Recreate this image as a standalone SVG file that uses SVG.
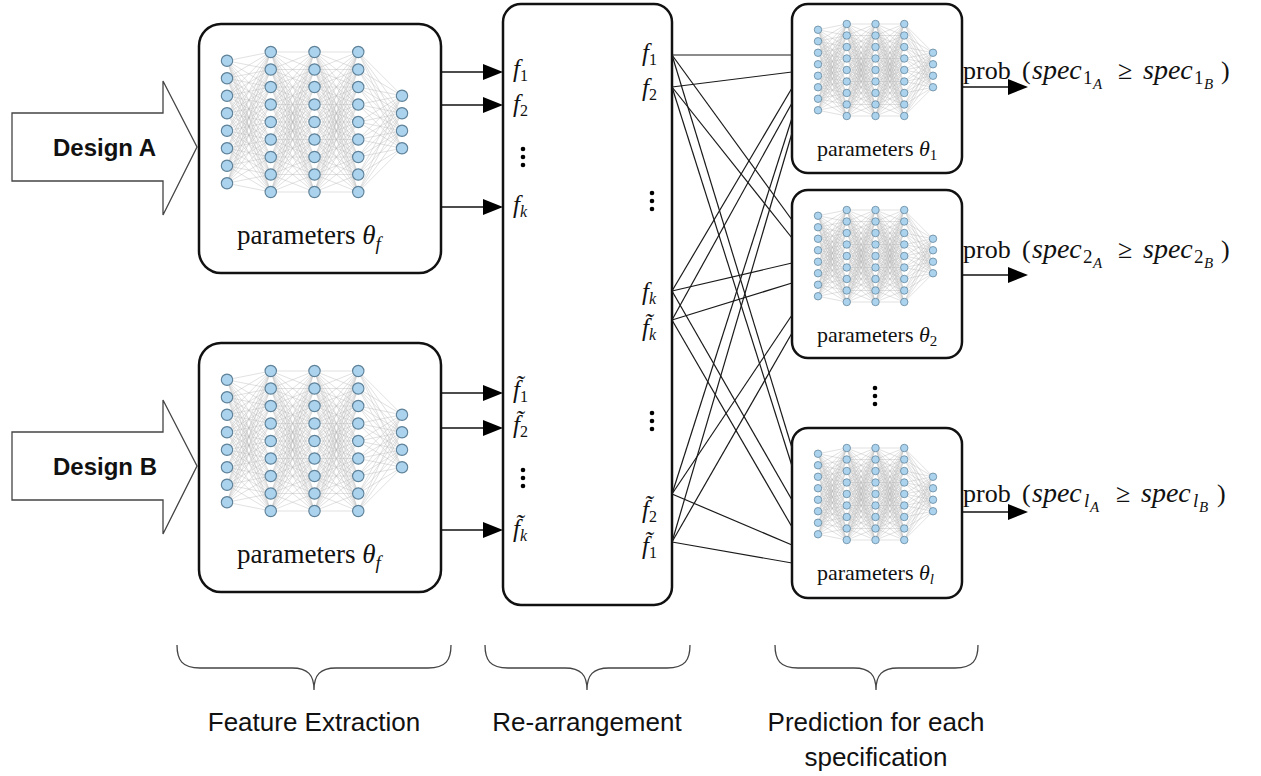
<svg xmlns="http://www.w3.org/2000/svg" xmlns:xlink="http://www.w3.org/1999/xlink" width="1261" height="776" viewBox="0 0 1261 776">
<style>
.box{fill:#fff;stroke:#111;stroke-width:2.5}
.mesh{fill:none;stroke:#a3a3a3;stroke-width:0.4;opacity:.8}
.nd{fill:#acd3ee;stroke:#5f8299;stroke-width:0.13}
.ser{font-family:"Liberation Serif","Times New Roman",serif;fill:#111}
.it{font-style:italic}
.lab{font-size:25px}
.sb{font-size:16px;font-style:normal}
.sbi{font-size:16px;font-style:italic}
.con{stroke:#1a1a1a;stroke-width:1.2;fill:none}
.arr{stroke:#111;stroke-width:1.6;fill:none}
.head{fill:#000}
.dot{fill:#000}
.sans{font-family:"Liberation Sans",Arial,sans-serif;fill:#111}
.brace{fill:none;stroke:#444;stroke-width:1.3}
.design{fill:#fff;stroke:#444;stroke-width:1.3}
</style>
<defs>
<path id="m1" class="mesh" vector-effect="non-scaling-stroke" d="M0 -7L5 -8M0 -7L5 -6M0 -7L5 -4M0 -7L5 -2M0 -7L5 0M0 -7L5 2M0 -7L5 4M0 -7L5 6M0 -7L5 8M0 -5L5 -8M0 -5L5 -6M0 -5L5 -4M0 -5L5 -2M0 -5L5 0M0 -5L5 2M0 -5L5 4M0 -5L5 6M0 -5L5 8M0 -3L5 -8M0 -3L5 -6M0 -3L5 -4M0 -3L5 -2M0 -3L5 0M0 -3L5 2M0 -3L5 4M0 -3L5 6M0 -3L5 8M0 -1L5 -8M0 -1L5 -6M0 -1L5 -4M0 -1L5 -2M0 -1L5 0M0 -1L5 2M0 -1L5 4M0 -1L5 6M0 -1L5 8M0 1L5 -8M0 1L5 -6M0 1L5 -4M0 1L5 -2M0 1L5 0M0 1L5 2M0 1L5 4M0 1L5 6M0 1L5 8M0 3L5 -8M0 3L5 -6M0 3L5 -4M0 3L5 -2M0 3L5 0M0 3L5 2M0 3L5 4M0 3L5 6M0 3L5 8M0 5L5 -8M0 5L5 -6M0 5L5 -4M0 5L5 -2M0 5L5 0M0 5L5 2M0 5L5 4M0 5L5 6M0 5L5 8M0 7L5 -8M0 7L5 -6M0 7L5 -4M0 7L5 -2M0 7L5 0M0 7L5 2M0 7L5 4M0 7L5 6M0 7L5 8"/>
<path id="m2" class="mesh" vector-effect="non-scaling-stroke" d="M0 -8L5 -8M0 -8L5 -6M0 -8L5 -4M0 -8L5 -2M0 -8L5 0M0 -8L5 2M0 -8L5 4M0 -8L5 6M0 -8L5 8M0 -6L5 -8M0 -6L5 -6M0 -6L5 -4M0 -6L5 -2M0 -6L5 0M0 -6L5 2M0 -6L5 4M0 -6L5 6M0 -6L5 8M0 -4L5 -8M0 -4L5 -6M0 -4L5 -4M0 -4L5 -2M0 -4L5 0M0 -4L5 2M0 -4L5 4M0 -4L5 6M0 -4L5 8M0 -2L5 -8M0 -2L5 -6M0 -2L5 -4M0 -2L5 -2M0 -2L5 0M0 -2L5 2M0 -2L5 4M0 -2L5 6M0 -2L5 8M0 0L5 -8M0 0L5 -6M0 0L5 -4M0 0L5 -2M0 0L5 0M0 0L5 2M0 0L5 4M0 0L5 6M0 0L5 8M0 2L5 -8M0 2L5 -6M0 2L5 -4M0 2L5 -2M0 2L5 0M0 2L5 2M0 2L5 4M0 2L5 6M0 2L5 8M0 4L5 -8M0 4L5 -6M0 4L5 -4M0 4L5 -2M0 4L5 0M0 4L5 2M0 4L5 4M0 4L5 6M0 4L5 8M0 6L5 -8M0 6L5 -6M0 6L5 -4M0 6L5 -2M0 6L5 0M0 6L5 2M0 6L5 4M0 6L5 6M0 6L5 8M0 8L5 -8M0 8L5 -6M0 8L5 -4M0 8L5 -2M0 8L5 0M0 8L5 2M0 8L5 4M0 8L5 6M0 8L5 8"/>
<path id="m4" class="mesh" vector-effect="non-scaling-stroke" d="M0 -8L5 -3M0 -8L5 -1M0 -8L5 1M0 -8L5 3M0 -6L5 -3M0 -6L5 -1M0 -6L5 1M0 -6L5 3M0 -4L5 -3M0 -4L5 -1M0 -4L5 1M0 -4L5 3M0 -2L5 -3M0 -2L5 -1M0 -2L5 1M0 -2L5 3M0 0L5 -3M0 0L5 -1M0 0L5 1M0 0L5 3M0 2L5 -3M0 2L5 -1M0 2L5 1M0 2L5 3M0 4L5 -3M0 4L5 -1M0 4L5 1M0 4L5 3M0 6L5 -3M0 6L5 -1M0 6L5 1M0 6L5 3M0 8L5 -3M0 8L5 -1M0 8L5 1M0 8L5 3"/>
<g id="col9"><circle class="nd" cx="0" cy="-8" r="0.65"/><circle class="nd" cx="0" cy="-6" r="0.65"/><circle class="nd" cx="0" cy="-4" r="0.65"/><circle class="nd" cx="0" cy="-2" r="0.65"/><circle class="nd" cx="0" cy="0" r="0.65"/><circle class="nd" cx="0" cy="2" r="0.65"/><circle class="nd" cx="0" cy="4" r="0.65"/><circle class="nd" cx="0" cy="6" r="0.65"/><circle class="nd" cx="0" cy="8" r="0.65"/></g>
<g id="col8"><circle class="nd" cx="0" cy="-7" r="0.65"/><circle class="nd" cx="0" cy="-5" r="0.65"/><circle class="nd" cx="0" cy="-3" r="0.65"/><circle class="nd" cx="0" cy="-1" r="0.65"/><circle class="nd" cx="0" cy="1" r="0.65"/><circle class="nd" cx="0" cy="3" r="0.65"/><circle class="nd" cx="0" cy="5" r="0.65"/><circle class="nd" cx="0" cy="7" r="0.65"/></g>
<g id="col4"><circle class="nd" cx="0" cy="-3" r="0.65"/><circle class="nd" cx="0" cy="-1" r="0.65"/><circle class="nd" cx="0" cy="1" r="0.65"/><circle class="nd" cx="0" cy="3" r="0.65"/></g>
<g id="net">
<use href="#m1"/><use href="#m2" x="5"/><use href="#m2" x="10"/><use href="#m4" x="15"/>
<use href="#col8"/><use href="#col9" x="5"/><use href="#col9" x="10"/><use href="#col9" x="15"/><use href="#col4" x="20"/>
</g>
</defs>

<g id="designA">
<polygon class="design" points="12,113 163,113 163,81 197,147 163,215 163,181 12,181"/>
<text class="sans" x="53" y="156" font-size="24" font-weight="bold">Design A</text>
</g>
<g id="designB">
<polygon class="design" points="12,432 163,432 163,400 197,466 163,534 163,500 12,500"/>
<text class="sans" x="53" y="475" font-size="24" font-weight="bold">Design B</text>
</g>

<g id="featA">
<rect class="box" x="199" y="24" width="242" height="249" rx="22"/>
<use href="#net" transform="translate(227 122) scale(8.75)"/>
<text class="ser" x="237" y="244" font-size="27">parameters <tspan class="it">θ</tspan><tspan class="it" font-size="19" dy="6">f</tspan></text>
</g>
<g id="featB">
<rect class="box" x="199" y="343" width="242" height="249" rx="22"/>
<use href="#net" transform="translate(227 441) scale(8.75)"/>
<text class="ser" x="237" y="563" font-size="27">parameters <tspan class="it">θ</tspan><tspan class="it" font-size="19" dy="6">f</tspan></text>
</g>

<g id="rearrange">
<rect class="box" x="503" y="4" width="169" height="601" rx="18"/>
<g class="ser lab">
<text x="513" y="77"><tspan class="it">f</tspan><tspan class="sb" dy="4">1</tspan></text>
<text x="513" y="112"><tspan class="it">f</tspan><tspan class="sb" dy="4">2</tspan></text>
<text x="513" y="213"><tspan class="it">f</tspan><tspan class="sbi" dy="4">k</tspan></text>
<text x="513" y="398"><tspan class="it">f&#x303;</tspan><tspan class="sb" dy="4">1</tspan></text>
<text x="513" y="433"><tspan class="it">f&#x303;</tspan><tspan class="sb" dy="4">2</tspan></text>
<text x="513" y="537"><tspan class="it">f&#x303;</tspan><tspan class="sbi" dy="4">k</tspan></text>
<text x="642" y="61"><tspan class="it">f</tspan><tspan class="sb" dy="4">1</tspan></text>
<text x="642" y="96"><tspan class="it">f</tspan><tspan class="sb" dy="4">2</tspan></text>
<text x="642" y="300"><tspan class="it">f</tspan><tspan class="sbi" dy="4">k</tspan></text>
<text x="642" y="336"><tspan class="it">f&#x303;</tspan><tspan class="sbi" dy="4">k</tspan></text>
<text x="642" y="518"><tspan class="it">f&#x303;</tspan><tspan class="sb" dy="4">2</tspan></text>
<text x="642" y="554"><tspan class="it">f&#x303;</tspan><tspan class="sb" dy="4">1</tspan></text>
</g>
<g class="dot">
<circle cx="523" cy="149" r="2.3"/><circle cx="523" cy="157" r="2.3"/><circle cx="523" cy="165" r="2.3"/>
<circle cx="523" cy="470" r="2.3"/><circle cx="523" cy="478" r="2.3"/><circle cx="523" cy="486" r="2.3"/>
<circle cx="652" cy="193" r="2.3"/><circle cx="652" cy="201" r="2.3"/><circle cx="652" cy="209" r="2.3"/>
<circle cx="652" cy="413" r="2.3"/><circle cx="652" cy="421" r="2.3"/><circle cx="652" cy="429" r="2.3"/>
</g>
</g>

<g id="pred1">
<rect class="box" x="792" y="4" width="170" height="169" rx="16"/>
<use href="#net" transform="translate(818 70) scale(5.75)"/>
<text class="ser" x="817" y="156" font-size="22">parameters <tspan class="it">θ</tspan><tspan font-size="15" dy="4">1</tspan></text>
</g>
<g id="pred2">
<rect class="box" x="792" y="190" width="170" height="168" rx="16"/>
<use href="#net" transform="translate(818 256) scale(5.75)"/>
<text class="ser" x="817" y="342" font-size="22">parameters <tspan class="it">θ</tspan><tspan font-size="15" dy="4">2</tspan></text>
</g>
<g id="predl">
<rect class="box" x="792" y="428" width="170" height="170" rx="16"/>
<use href="#net" transform="translate(818 494) scale(5.75)"/>
<text class="ser" x="817" y="580" font-size="22">parameters <tspan class="it">θ</tspan><tspan class="it" font-size="15" dy="4">l</tspan></text>
</g>
<g id="vdots-pred" class="dot">
<circle cx="875" cy="388" r="2.3"/><circle cx="875" cy="396" r="2.3"/><circle cx="875" cy="404" r="2.3"/>
</g>

<g id="outputs" class="ser" font-size="26">
<text y="79"><tspan x="963">prob</tspan><tspan x="1022">(</tspan><tspan x="1032" class="it" font-size="28">spec</tspan><tspan x="1083" y="84" font-size="19">1</tspan><tspan x="1093" y="89" font-size="15" class="it">A</tspan><tspan x="1118" y="79">≥</tspan><tspan x="1143" class="it" font-size="28">spec</tspan><tspan x="1194" y="84" font-size="19">1</tspan><tspan x="1204" y="89" font-size="15" class="it">B</tspan><tspan x="1221" y="79">)</tspan></text>
<text y="258"><tspan x="963">prob</tspan><tspan x="1022">(</tspan><tspan x="1032" class="it" font-size="28">spec</tspan><tspan x="1083" y="263" font-size="19">2</tspan><tspan x="1093" y="268" font-size="15" class="it">A</tspan><tspan x="1118" y="258">≥</tspan><tspan x="1143" class="it" font-size="28">spec</tspan><tspan x="1194" y="263" font-size="19">2</tspan><tspan x="1204" y="268" font-size="15" class="it">B</tspan><tspan x="1221" y="258">)</tspan></text>
<text y="502"><tspan x="963">prob</tspan><tspan x="1022">(</tspan><tspan x="1032" class="it" font-size="28">spec</tspan><tspan x="1084" y="507" font-size="19" class="it">l</tspan><tspan x="1090" y="512" font-size="15" class="it">A</tspan><tspan x="1116" y="502">≥</tspan><tspan x="1141" class="it" font-size="28">spec</tspan><tspan x="1193" y="507" font-size="19" class="it">l</tspan><tspan x="1199" y="512" font-size="15" class="it">B</tspan><tspan x="1217" y="502">)</tspan></text>
</g>

<g id="connectors">
<g class="arr">
<line x1="441" y1="72" x2="485" y2="72"/><line x1="441" y1="105" x2="485" y2="105"/><line x1="441" y1="207" x2="485" y2="207"/>
<line x1="441" y1="393" x2="485" y2="393"/><line x1="441" y1="428" x2="485" y2="428"/><line x1="441" y1="530" x2="485" y2="530"/>
<line x1="962" y1="87" x2="1010" y2="87"/><line x1="962" y1="275" x2="1010" y2="275"/><line x1="962" y1="512" x2="1010" y2="512"/>
</g>
<g class="head">
<polygon points="483,64 503,72 483,80"/><polygon points="483,97 503,105 483,113"/><polygon points="483,199 503,207 483,215"/>
<polygon points="483,385 503,393 483,401"/><polygon points="483,420 503,428 483,436"/><polygon points="483,522 503,530 483,538"/>
<polygon points="1008,79 1028,87 1008,95"/><polygon points="1008,267 1028,275 1008,283"/><polygon points="1008,504 1028,512 1008,520"/>
</g>
<g class="con">
<line x1="672" y1="55" x2="792" y2="55"/>
<line x1="672" y1="87" x2="792" y2="72"/>
<line x1="672" y1="291" x2="792" y2="88"/>
<line x1="672" y1="320" x2="792" y2="103"/>
<line x1="672" y1="494" x2="792" y2="118"/>
<line x1="672" y1="542" x2="792" y2="133"/>
<line x1="672" y1="55" x2="792" y2="220"/>
<line x1="672" y1="87" x2="792" y2="238"/>
<line x1="672" y1="291" x2="792" y2="263"/>
<line x1="672" y1="320" x2="792" y2="283"/>
<line x1="672" y1="494" x2="792" y2="315"/>
<line x1="672" y1="542" x2="792" y2="333"/>
<line x1="672" y1="55" x2="792" y2="448"/>
<line x1="672" y1="87" x2="792" y2="466"/>
<line x1="672" y1="291" x2="792" y2="500"/>
<line x1="672" y1="320" x2="792" y2="527"/>
<line x1="672" y1="494" x2="792" y2="545"/>
<line x1="672" y1="542" x2="792" y2="563"/>
</g>
</g>

<g id="braces">
<path class="brace" d="M177 645C177 660 182 668 200 668L292 668C308 668 314 675 314 690C314 675 320 668 336 668L428 668C446 668 451 660 451 645"/>
<path class="brace" d="M485 645C485 660 490 668 508 668L565 668C581 668 587 675 587 690C587 675 593 668 609 668L667 668C685 668 690 660 690 645"/>
<path class="brace" d="M775 645C775 660 780 668 798 668L854 668C870 668 876 675 876 690C876 675 882 668 898 668L955 668C973 668 978 660 978 645"/>
</g>
<g id="captions" class="sans" font-size="26" text-anchor="middle">
<text x="314" y="731">Feature Extraction</text>
<text x="587" y="731">Re-arrangement</text>
<text x="876" y="731">Prediction for each</text>
<text x="876" y="766">specification</text>
</g>
</svg>
